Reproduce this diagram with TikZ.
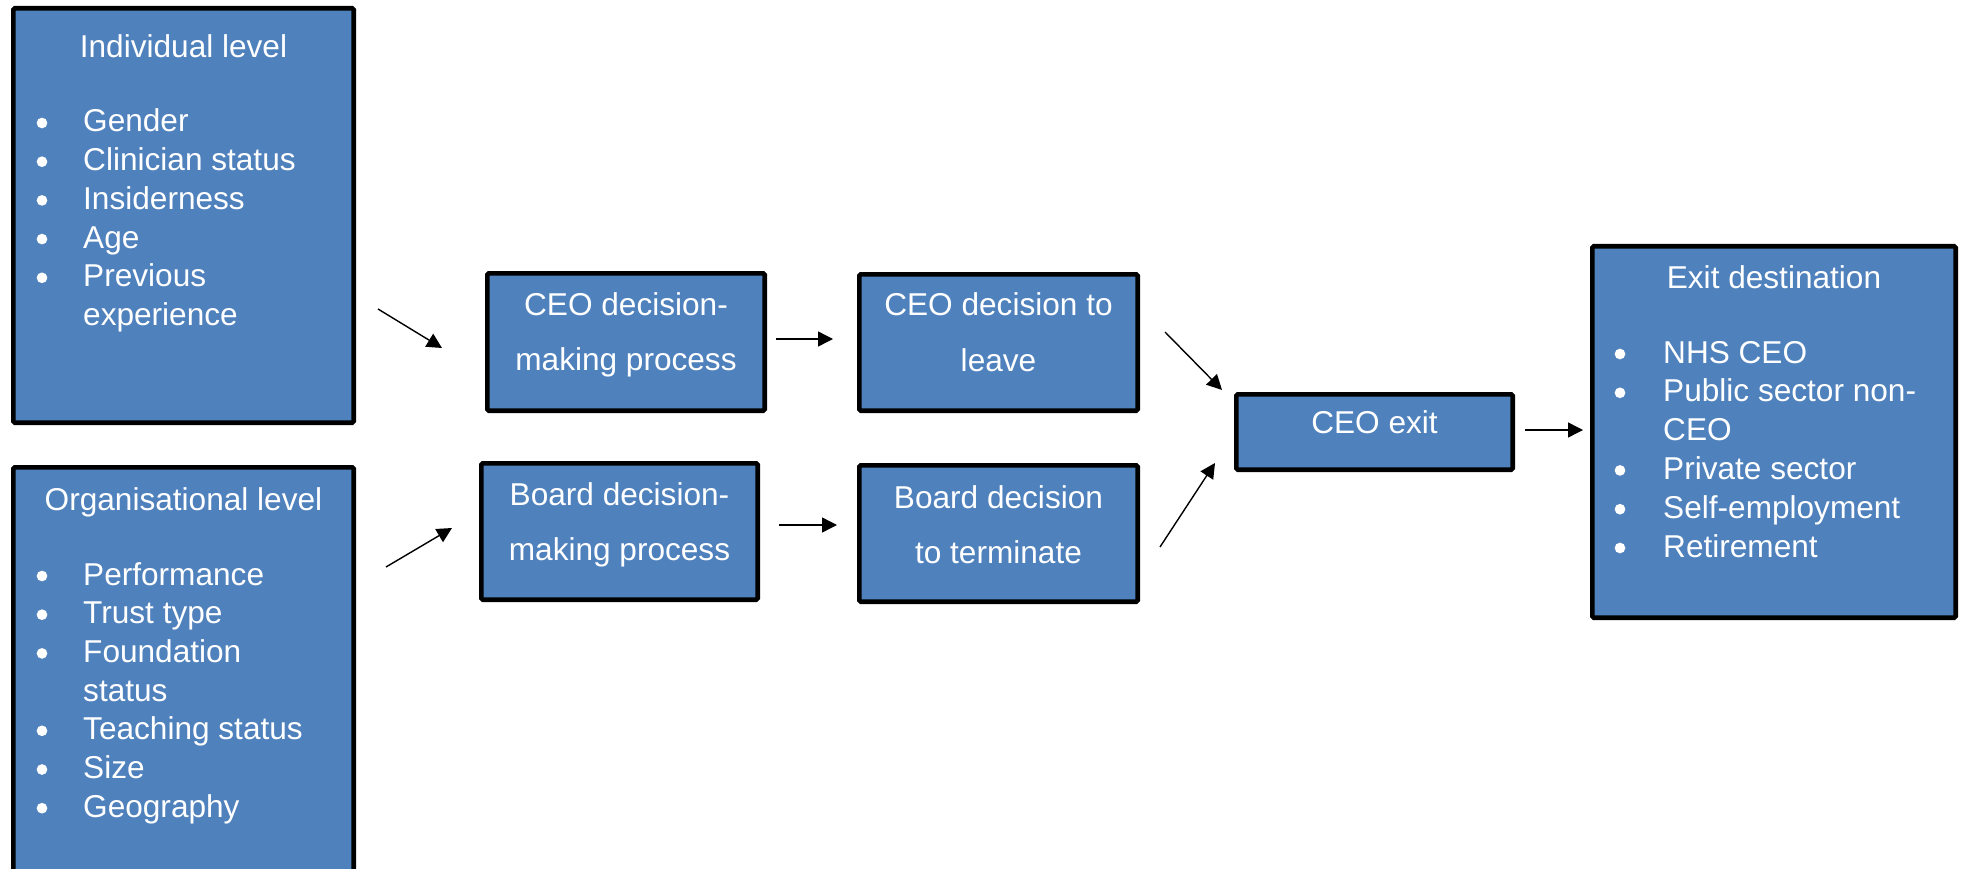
\documentclass[tikz,border=0pt]{standalone}
\usepackage{fontspec}
\setmainfont{Liberation Sans}
\usetikzlibrary{arrows.meta}
\definecolor{boxblue}{RGB}{79,129,189}

\tikzset{
  box/.style={draw=black, fill=boxblue, line width=4.6pt, inner sep=0pt, rounded corners=1.5pt},
  txt/.style={text=white, font=\fontsize{31.6}{38.7}\selectfont, inner sep=0pt, anchor=base},
  itm/.style={txt, anchor=base west},
  dot/.style={circle, fill=white, inner sep=0pt, minimum size=10.7pt},
  arr/.style={-{Triangle[length=15pt,width=15pt]}, line width=1.4pt},
}

\begin{document}
\begin{tikzpicture}[x=1pt,y=-1pt]
		\useasboundingbox (0,0) rectangle (1968,869);

		%%%%% boxes %%%%%
		\node[box, minimum width=340.4pt, minimum height=414.4pt] (ind) at (183.5,215.5) {};
		\node[box, minimum width=340.4pt, minimum height=407.7pt] (org) at (183.5,671.2) {};
		\node[box, minimum width=277.4pt, minimum height=137.4pt] (ceoproc) at (626,342) {};
		\node[box, minimum width=278.4pt, minimum height=136.4pt] (ceoleave) at (998.5,342.5) {};
		\node[box, minimum width=276.4pt, minimum height=136.4pt] (boardproc) at (619.5,531.5) {};
		\node[box, minimum width=278.4pt, minimum height=136.4pt] (boardterm) at (998.5,533.5) {};
		\node[box, minimum width=276.4pt, minimum height=75.4pt] (ceoexit) at (1374.5,432) {};
		\node[box, minimum width=363.4pt, minimum height=371.4pt] (dest) at (1774,432) {};

		%%%%% individual level %%%%%
		\node[txt] (ind-t) at (183.5,58) {Individual level};
		\foreach \t [count=\i from 0] in {Gender, Clinician status, Insiderness, Age, Previous, experience}
			\node[itm] (ind-l\i) at (83,132+38.7*\i) {\t};
		\foreach \i in {0,...,4}
			\node[dot] (ind-b\i) at (42,123+38.7*\i) {};

		%%%%% organisational level %%%%%
		\node[txt] (org-t) at (183.5,510) {Organisational level};
		\foreach \t [count=\i from 0] in {Performance, Trust type, Foundation, status, Teaching status, Size, Geography}
			\node[itm] (org-l\i) at (83,585+38.7*\i) {\t};
		\foreach \i in {0,1,2,4,5,6}
			\node[dot] (org-b\i) at (42,576+38.7*\i) {};

		%%%%% decisions %%%%%
		\node[txt] (ceoproc-1) at (626,315) {CEO decision-};
		\node[txt] (ceoproc-2) at (626,370) {making process};
		\node[txt] (ceoleave-1) at (998.5,315) {CEO decision to};
		\node[txt] (ceoleave-2) at (998.5,371) {leave};
		\node[txt] (boardproc-1) at (619.5,505) {Board decision-};
		\node[txt] (boardproc-2) at (619.5,560) {making process};
		\node[txt] (boardterm-1) at (998.5,508) {Board decision};
		\node[txt] (boardterm-2) at (998.5,563) {to terminate};
		\node[txt] (ceoexit-1) at (1374.5,433) {CEO exit};

		%%%%% exit destination %%%%%
		\node[txt] (dest-t) at (1774,288) {Exit destination};
		\foreach \t [count=\i from 0] in {NHS CEO, Public sector non-, CEO, Private sector, Self-employment, Retirement}
			\node[itm] (dest-l\i) at (1663,363+38.8*\i) {\t};
		\foreach \i in {0,1,3,4,5}
			\node[dot] (dest-b\i) at (1620,354+38.8*\i) {};

		%%%%% arrows %%%%%
		\coordinate (a1s) at (378,309);  \coordinate (a1e) at (442,348);
		\coordinate (a2s) at (386,567);  \coordinate (a2e) at (452,528);
		\coordinate (a3s) at (776,339);  \coordinate (a3e) at (833,339);
		\coordinate (a4s) at (779,525);  \coordinate (a4e) at (837,525);
		\coordinate (a5s) at (1165,332); \coordinate (a5e) at (1222,390);
		\coordinate (a6s) at (1160,547); \coordinate (a6e) at (1215,463);
		\coordinate (a7s) at (1525,430); \coordinate (a7e) at (1583,430);
		\draw[arr] (a1s) -- (a1e);
		\draw[arr] (a2s) -- (a2e);
		\draw[arr] (a3s) -- (a3e);
		\draw[arr] (a4s) -- (a4e);
		\draw[arr] (a5s) -- (a5e);
		\draw[arr] (a6s) -- (a6e);
		\draw[arr] (a7s) -- (a7e);
	\end{tikzpicture}
\end{document}
